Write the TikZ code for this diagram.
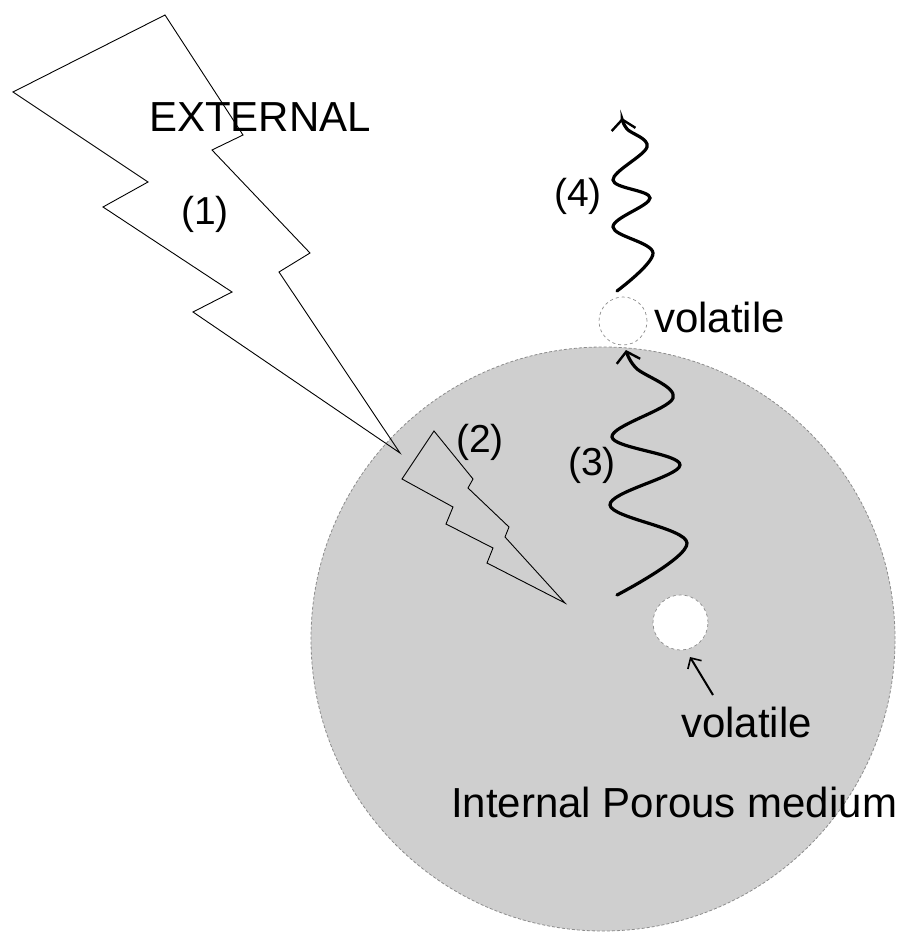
\documentclass[tikz,border=0pt]{standalone}
\usepackage{fontspec}
\setmainfont{Liberation Sans}
\usetikzlibrary{arrows.meta}
\begin{document}
\begin{tikzpicture}[x=1pt,y=-1pt,
  lbl/.style={inner sep=0pt, font=\fontsize{42}{48}\selectfont},
  num/.style={inner sep=0pt, font=\fontsize{39}{46}\selectfont},
  bolt/.style={draw=black, line width=0.9pt, line join=miter},
  wave/.style={line width=3.2pt, line cap=round, -{Straight Barb[length=10pt,width=24pt,line width=2.4pt]}},
  bubble/.style={circle, draw=black!45, fill=white, line width=0.7pt, dash pattern=on 3pt off 3pt, minimum size=#1, inner sep=0pt},
  pointer/.style={line width=2pt, -{Straight Barb[length=8pt,width=16pt,line width=1.6pt]}}
]
\useasboundingbox (0,0) rectangle (904,936);
% porous medium
\node[circle, minimum size=584pt, fill=black!19, draw=black!45, line width=0.8pt, dash pattern=on 3pt off 2pt, inner sep=0pt] (medium) at (603,639) {};
% bubbles
\node[bubble=48pt] (vup) at (623,321) {};
\node[bubble=55pt] (vlow) at (680.5,622.5) {};
% external bolt
\draw[bolt] (165,15) -- (243,135) -- (212,150) -- (310,253) -- (279,272) -- (400,453) -- (193,312) -- (232,292) -- (103,207) -- (148,182) -- (13,92) -- cycle;
% internal bolt
\draw[bolt] (434,431) -- (473,479) -- (468,488) -- (509,527) -- (505,537) -- (565,603) -- (487,563) -- (493,548) -- (446,524) -- (453,507) -- (402,479) -- cycle;
% wave 3
\draw[wave] plot[smooth, tension=0.6] coordinates {(617,595) (687,543) (610,505) (680,465) (612,437) (673,398) (636,368) (626,350)};
% wave 4
\draw[wave] plot[smooth, tension=0.6] coordinates {(617,291) (653,253) (613,227) (650,198) (613,180) (647,147) (627,129) (622,118)};
% pointer to lower volatile
\coordinate (la0) at (713,695);
\coordinate (la1) at (690,657);
\draw[pointer] (la0) -- (la1);
% labels
\node[lbl, anchor=base west] (ext) at (149,132) {EXTERNAL};
\node[num, anchor=base] (n1) at (205,224) {(1)};
\node[num, anchor=base] (n2) at (480,452) {(2)};
\node[num, anchor=base] (n3) at (592,475) {(3)};
\node[num, anchor=base] (n4) at (578,206) {(4)};
\node[lbl, anchor=base west] (volup) at (654,332) {volatile};
\node[lbl, anchor=base west] (vollow) at (681,737) {volatile};
\node[lbl, anchor=base west] (ipm) at (451,817) {Internal Porous medium};
\end{tikzpicture}
\end{document}
